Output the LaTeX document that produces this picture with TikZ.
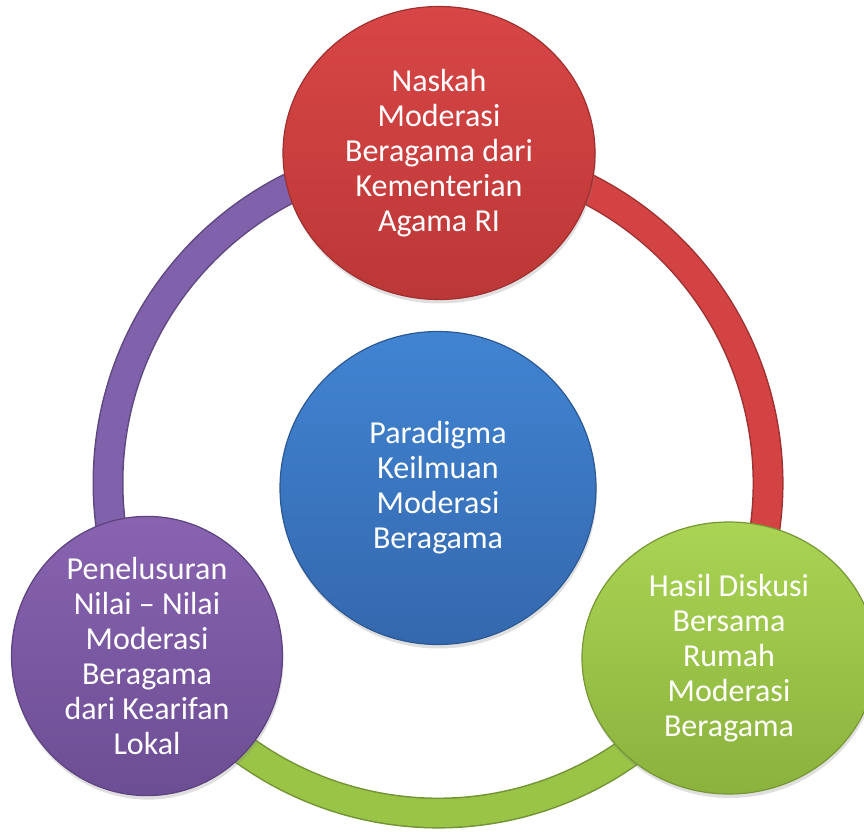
\documentclass[tikz,border=0pt]{standalone}
\usepackage{fontspec}
\setmainfont{Carlito}
\usepackage{tikz}
\usetikzlibrary{shapes.geometric}
\usetikzlibrary{shadows}
\usetikzlibrary{positioning}

\definecolor{redtop}{HTML}{D84646}
\definecolor{redbot}{HTML}{BC3737}
\definecolor{bluetop}{HTML}{4184D2}
\definecolor{bluebot}{HTML}{3468AE}
\definecolor{purptop}{HTML}{8963B0}
\definecolor{purpbot}{HTML}{6C4E94}
\definecolor{greentop}{HTML}{AAD454}
\definecolor{greenbot}{HTML}{8BB23D}
\definecolor{ringpurp}{HTML}{8061AB}
\definecolor{ringred}{HTML}{D44343}
\definecolor{ringgreen}{HTML}{99C446}

\tikzset{
  bubble/.style={ellipse,text=white,align=center,inner sep=0pt,
    font=\fontsize{32}{35}\selectfont,line width=1.2pt,
    drop shadow={opacity=0.25,shadow xshift=1pt,shadow yshift=-4pt}},
  ringedge/.style={line width=31pt},
  ring/.style={line width=28pt}
}

\begin{document}
\begin{tikzpicture}[x=1pt,y=1pt,line join=round]
        \useasboundingbox (0,0) rectangle (864,831);
        \coordinate (hub) at (438,348);
        % ring
        \draw[ringedge,ringpurp!75!black] (hub) ++(90:330) arc[start angle=90,end angle=210,radius=330];
        \draw[ring,ringpurp] (hub) ++(90:330) arc[start angle=90,end angle=210,radius=330];
        \draw[ringedge,ringred!75!black] (hub) ++(-30:330) arc[start angle=-30,end angle=90,radius=330];
        \draw[ring,ringred] (hub) ++(-30:330) arc[start angle=-30,end angle=90,radius=330];
        \draw[ringedge,ringgreen!75!black] (hub) ++(210:330) arc[start angle=210,end angle=330,radius=330];
        \draw[ring,ringgreen] (hub) ++(210:330) arc[start angle=210,end angle=330,radius=330];
        % 
        \node[bubble,minimum width=312pt,minimum height=293pt,
          top color=redtop,bottom color=redbot,draw=redbot!85!black]
          (naskah) at (439,678) {Naskah\\Moderasi\\Beragama dari\\Kementerian\\Agama RI};
        % 
        \node[bubble,minimum width=316pt,minimum height=313pt,
          top color=bluetop,bottom color=bluebot,draw=bluebot!85!black]
          (paradigma) at (438,343) {Paradigma\\Keilmuan\\Moderasi\\Beragama};
        % 
        \node[bubble,minimum width=271pt,minimum height=248pt,
          top color=purptop,bottom color=purpbot,draw=purpbot!85!black]
          (penelusuran) at (147,175) {Penelusuran\\Nilai -- Nilai\\Moderasi\\Beragama\\dari Kearifan\\Lokal};
        % 
        \node[bubble,minimum width=294pt,minimum height=272pt,
          top color=greentop,bottom color=greenbot,draw=greenbot!85!black]
          (hasil) at (729,173) {Hasil Diskusi\\Bersama\\Rumah\\Moderasi\\Beragama};
        % 
      \end{tikzpicture}
\end{document}
